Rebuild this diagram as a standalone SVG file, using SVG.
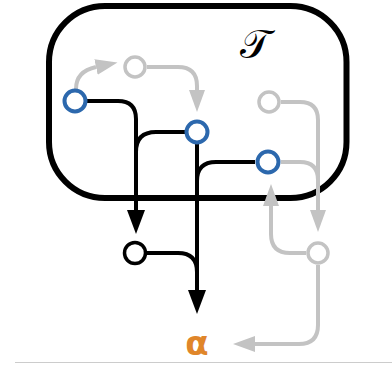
<svg xmlns="http://www.w3.org/2000/svg" width="392" height="365" viewBox="0 0 392 365">
  <style>
    .frame { fill: none; stroke: #000; stroke-width: 6; }
    .blk { fill: none; stroke: #000; stroke-width: 4; }
    .gry { fill: none; stroke: #c3c3c3; stroke-width: 4; }
    .n-blue { fill: #fff; stroke: #2c68ad; stroke-width: 4; }
    .n-gray { fill: #fff; stroke: #c3c3c3; stroke-width: 3.5; }
    .n-black { fill: #fff; stroke: #000; stroke-width: 3.5; }
    .label-t { font-family: "DejaVu Serif", "Liberation Serif", serif; font-size: 40px; fill: #000; }
    .label-a { font-family: "DejaVu Sans", "Liberation Sans", sans-serif; font-size: 34px; font-weight: bold; fill: #e0862a; }
  </style>
  <defs>
    <marker id="ahBlack" markerUnits="userSpaceOnUse" markerWidth="24" markerHeight="18" viewBox="0 -9 24 18" refX="0" refY="0" orient="auto">
      <path d="M0,-9 L24,0 L0,9 z" fill="#000"/>
    </marker>
    <marker id="ahGray" markerUnits="userSpaceOnUse" markerWidth="22" markerHeight="16" viewBox="0 -8 22 16" refX="0" refY="0" orient="auto">
      <path d="M0,-8 L22,0 L0,8 z" fill="#c3c3c3"/>
    </marker>
  </defs>

  <!-- bounding region T -->
  <g id="region-T">
    <rect class="frame" x="49" y="6" width="297.5" height="192" rx="56" ry="56"/>
    <text class="label-t" x="255" y="58" text-anchor="middle">𝒯</text>
  </g>

  <!-- connectors -->
  <g id="connectors">
    <!-- black -->
    <path class="blk" d="M87,101 H118 Q136,101 136,119 V210" marker-end="url(#ahBlack)"/>
    <path class="blk" d="M185,132 H156 Q136,132 136,152"/>
    <path class="blk" d="M197,143 V290" marker-end="url(#ahBlack)"/>
    <path class="blk" d="M255,162 H216 Q197,162 197,181"/>
    <path class="blk" d="M147,253 H178 Q197,253 197,272"/>
    <!-- gray -->
    <path class="gry" d="M76,89 C76,78 82,70 96,67" marker-end="url(#ahGray)"/>
    <path class="gry" d="M147,67 H178 Q197,67 197,86 V90" marker-end="url(#ahGray)"/>
    <path class="gry" d="M281,102 H300 Q318,102 318,120 V210" marker-end="url(#ahGray)"/>
    <path class="gry" d="M281,162 H300 Q318,162 318,180"/>
    <path class="gry" d="M306,253 H290 Q271,253 271,234 V206" marker-end="url(#ahGray)"/>
    <path class="gry" d="M318,265 V325 Q318,344 299,344 H255" marker-end="url(#ahGray)"/>
  </g>

  <!-- nodes -->
  <g id="node-a"><circle class="n-blue" cx="75" cy="101" r="10.5"/></g>
  <g id="node-b"><circle class="n-gray" cx="135" cy="67" r="10"/></g>
  <g id="node-c"><circle class="n-blue" cx="197" cy="132" r="10.5"/></g>
  <g id="node-d"><circle class="n-gray" cx="269" cy="102" r="10"/></g>
  <g id="node-e"><circle class="n-blue" cx="268" cy="162" r="10.5"/></g>
  <g id="node-f"><circle class="n-black" cx="135" cy="253" r="10.5"/></g>
  <g id="node-g"><circle class="n-gray" cx="318" cy="253" r="10"/></g>

  <g id="output-alpha">
    <text class="label-a" x="197" y="355" text-anchor="middle">α</text>
  </g>

  <!-- baseline rule -->
  <line x1="15" y1="362.5" x2="392" y2="362.5" stroke="#cccccc" stroke-width="1"/>
</svg>
